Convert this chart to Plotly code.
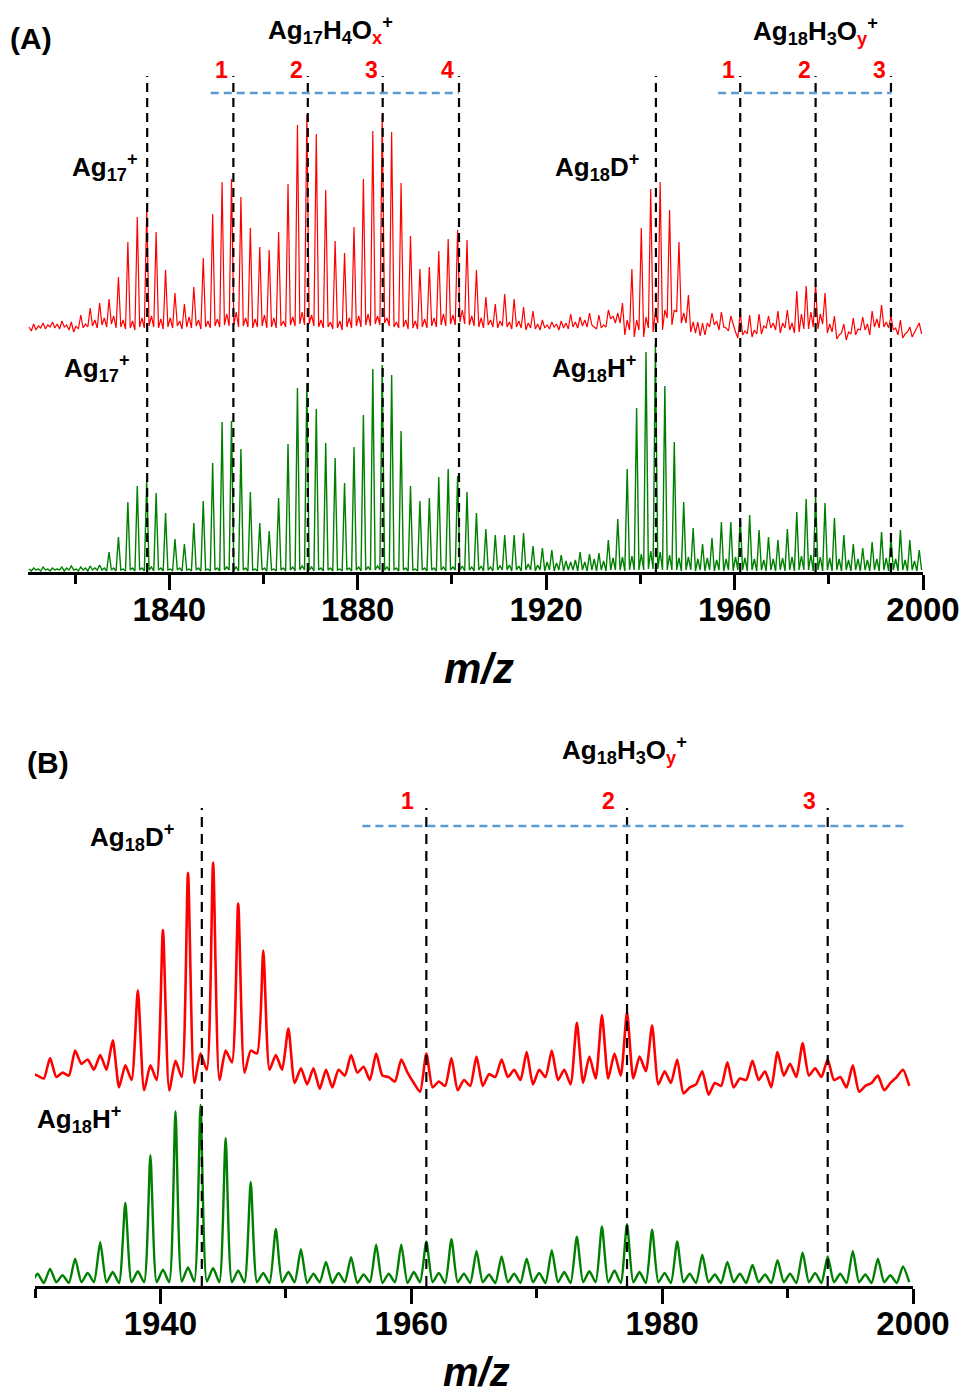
import plotly.graph_objects as go

W, H = 961, 1398

# ---------------------------------------------------------------------------
# Spectra, sampled on a 0.5 Da grid: "apex" values sit at n + 0.2 and
# "trough" values at n + 0.7 for every integer n from MZ_FIRST upward.
# Intensities are in arbitrary units.
# ---------------------------------------------------------------------------
MZ_FIRST = 1810

# red trace (deuterated sample)
red_apex = [
    3, 6, 4, 7, 5, 8, 6, 9, 5, 8,            # 1810-1819
    4, 15, 6, 22, 10, 27, 12, 31, 14, 53,    # 1820-1829
    10, 88, 9, 113, 12, 122, 14, 98, 11, 60,  # 1830-1839
    12, 37, 9, 26, 13, 43, 10, 72, 9, 116,   # 1840-1849
    11, 148, 16, 151, 18, 133, 12, 102, 11, 83,  # 1850-1859
    15, 80, 12, 98, 9, 146, 13, 205, 18, 215,    # 1860-1869
    15, 196, 10, 140, 8, 89, 9, 77, 12, 103,     # 1870-1879
    14, 151, 16, 199, 14, 215, 12, 198, 8, 147,  # 1880-1889
    10, 94, 9, 61, 11, 63, 12, 79, 16, 91,       # 1890-1899
    15, 100, 20, 90, 14, 60, 12, 33, 10, 26,     # 1900-1909
    9, 36, 8, 31, 9, 23, 7, 19, 6, 10,           # 1910-1919
    5, 8, 6, 9, 7, 16, 8, 13, 10, 17,            # 1920-1929
    3, 15, 5, 20, 14, 17, 27, 10, 61, 10,        # 1930-1939
    102, 13, 141, 18, 148, 20, 120, 20, 88, 17,  # 1940-1949
    35, 8, 8, 7, 7, 17, 9, 18, 2, 14,            # 1950-1959
    -2, 18, -1, 15, 0, 16, 4, 14, 7, 19,         # 1960-1969
    7, 20, 7, 39, 16, 44, 18, 46, 16, 37,        # 1970-1979
    6, 14, -5, 6, -2, 12, 1, 13, 6, 19,          # 1980-1989
    11, 25, 8, 14, 2, 10, -4, 3, -2, 7,          # 1990-1999
]
red_trough = [
    -1, 0, 2, 1, 3, 2, 1, 3, 0, -2,
    1, 2, 3, 4, 2, 5, 3, 6, 2, 3,
    1, 2, 0, 3, 2, 4, 3, 2, 1, 3,
    2, 4, 1, 3, 2, 4, 1, 3, 2, 4,
    3, 5, 4, 5, 3, 4, 3, 2, 3, 4,
    2, 3, 2, 4, 3, 5, 4, 6, 5, 6,
    4, 3, 2, 3, 1, 2, 0, 3, 2, 4,
    3, 5, 4, 6, 5, 7, 4, 3, 2, 3,
    1, 2, 1, 3, 2, 4, 3, 5, 4, 6,
    5, 8, 6, 5, 4, 3, 2, 5, 3, 2,
    4, 3, 1, 3, 2, 0, 2, 1, 0, 2,
    1, 3, 0, 2, 1, 3, 2, 4, 3, 5,
    1, 2, 3, 11, 7, 7, -5, 0, -7, 0,
    -7, 2, -2, 7, 0, 12, 5, 18, 7, 7,
    -2, -3, -6, -5, 3, 5, 0, 3, -1, 5,
    -8, -5, -4, -7, -4, -4, 2, 2, 0, -3,
    2, 0, -3, -2, 1, 1, 3, 1, 6, -3,
    -2, -9, -3, -10, -4, -5, 0, 0, -5, 3,
    2, 3, 2, 0, -5, -8, -2, -7, 2, -4,
]

# green trace (non-deuterated sample)
green_apex = [
    2, 3, 2, 4, 2, 3, 2, 4, 3, 5,            # 1810-1819
    2, 4, 3, 5, 3, 6, 3, 19, 3, 34,          # 1820-1829
    2, 69, 3, 85, 3, 91, 4, 78, 3, 58,       # 1830-1839
    2, 32, 3, 27, 2, 48, 3, 70, 2, 108,      # 1840-1849
    3, 149, 4, 150, 4, 122, 3, 79, 2, 48,    # 1850-1859
    3, 40, 2, 73, 3, 127, 4, 183, 5, 188,    # 1860-1869
    4, 162, 3, 128, 3, 113, 2, 88, 3, 124,   # 1870-1879
    4, 156, 4, 202, 5, 206, 4, 196, 3, 140,  # 1880-1889
    3, 85, 2, 70, 3, 73, 3, 94, 4, 102,      # 1890-1899
    4, 95, 5, 79, 4, 58, 5, 42, 4, 36,       # 1900-1909
    5, 36, 6, 36, 5, 38, 7, 25, 6, 23,       # 1910-1919
    9, 21, 8, 16, 10, 9, 11, 19, 9, 17,      # 1920-1929
    12, 18, 10, 31, 13, 52, 14, 102, 15, 163,  # 1930-1939
    17, 219, 20, 227, 19, 185, 16, 129, 13, 69,  # 1940-1949
    14, 43, 12, 27, 13, 33, 11, 49, 12, 49,      # 1950-1959
    14, 53, 13, 56, 12, 41, 11, 34, 12, 31,      # 1960-1969
    13, 42, 14, 59, 15, 72, 16, 75, 14, 68,      # 1970-1979
    13, 53, 12, 36, 11, 27, 12, 23, 11, 29,      # 1980-1989
    12, 39, 13, 34, 12, 41, 11, 31, 10, 21,      # 1990-1999
]
green_trough = [
    0, 1, 0, 1, 0, 1, 1, 0, 1, 1,
    0, 1, 0, 1, 1, 1, 0, 1, 0, 1,
    0, 1, 0, 1, 0, 1, 0, 1, 0, 1,
    0, 1, 0, 1, 0, 1, 0, 1, 0, 1,
    0, 1, 1, 1, 0, 1, 0, 1, 0, 1,
    0, 1, 0, 1, 0, 1, 0, 1, 1, 1,
    0, 1, 0, 1, 0, 1, 0, 1, 0, 1,
    0, 1, 1, 1, 1, 1, 0, 1, 0, 1,
    0, 1, 0, 1, 0, 1, 0, 1, 0, 1,
    1, 1, 0, 1, 0, 1, 0, 1, 0, 1,
    1, 1, 0, 1, 0, 1, 1, 0, 1, 0,
    1, 0, 1, 0, 1, 1, 0, 1, 0, 1,
    0, 1, 0, 1, 1, 1, 0, 1, 1, 1,
    1, 2, 2, 2, 1, 1, 1, 1, 0, 1,
    1, 0, 1, 0, 1, 0, 1, 0, 1, 0,
    1, 1, 0, 1, 0, 1, 0, 1, 0, 1,
    0, 1, 0, 1, 1, 1, 0, 1, 0, 1,
    0, 1, 0, 1, 0, 1, 0, 1, 0, 1,
    0, 1, 0, 1, 0, 1, 0, 1, 0, 1,
]

# reference m/z markers
ref_mz_a = [1835.3, 1853.6, 1869.4, 1885.3, 1901.5, 1943.3, 1961.2, 1977.2, 1993.2]
ref_mz_b = [1943.3, 1961.2, 1977.2, 1993.2]
oxide_num_a = [("1", 1853.6), ("2", 1869.4), ("3", 1885.3), ("4", 1901.5),
               ("1", 1961.2), ("2", 1977.2), ("3", 1993.2)]
oxide_num_b = [("1", 1961.2), ("2", 1977.2), ("3", 1993.2)]
series_span_a = [(1848.8, 1901.5), (1956.5, 1993.3)]
series_span_b = [(1956.1, 1999.5)]

tick_major_a = [1840, 1880, 1920, 1960, 2000]
tick_minor_a = [1820, 1860, 1900, 1940, 1980]
tick_major_b = [1940, 1960, 1980, 2000]
tick_minor_b = [1930, 1950, 1970, 1990]

RED = "#ff0000"
GREEN = "#008000"
BLUE = "#5b9bd5"
FONT = "Liberation Sans, Arial, sans-serif"


def spectrum(apex, trough):
    xs, ys = [], []
    for i, (a, t) in enumerate(zip(apex, trough)):
        n = MZ_FIRST + i
        xs += [n + 0.2, n + 0.7]
        ys += [a, t]
    return xs, ys


def fy(py):
    return 1 - py / H


def fx(px):
    return px / W


rx, ry = spectrum(red_apex, red_trough)
gx, gy = spectrum(green_apex, green_trough)

fig = go.Figure()
# overview panel (A)
fig.add_trace(go.Scatter(x=rx, y=ry, xaxis="x", yaxis="y", mode="lines",
                         line=dict(color=RED, width=1.2)))
fig.add_trace(go.Scatter(x=gx, y=gy, xaxis="x", yaxis="y2", mode="lines",
                         line=dict(color=GREEN, width=1.4)))
# expanded panel (B)
fig.add_trace(go.Scatter(x=rx, y=ry, xaxis="x2", yaxis="y3", mode="lines",
                         line=dict(color=RED, width=2.6, shape="spline",
                                   smoothing=0.6)))
fig.add_trace(go.Scatter(x=gx, y=gy, xaxis="x2", yaxis="y4", mode="lines",
                         line=dict(color=GREEN, width=2.4, shape="spline",
                                   smoothing=0.6)))

axis_common = dict(
    showgrid=False, zeroline=False, showline=True, linecolor="black", linewidth=3,
    ticks="outside", ticklen=15, tickwidth=3, tickcolor="black",
    tickfont=dict(family=FONT, size=33, color="black", weight=700),
    tickmode="array", automargin=False, ticklabelstandoff=-9,
)

fig.update_layout(
    width=W, height=H, margin=dict(l=0, r=0, t=0, b=0, pad=0, autoexpand=False),
    paper_bgcolor="white", plot_bgcolor="rgba(0,0,0,0)", showlegend=False,
    xaxis=dict(domain=[fx(28), fx(923)], range=[1810, 2000], anchor="y2",
               tickvals=tick_major_a,
               minor=dict(tickvals=tick_minor_a, ticklen=9, tickwidth=3,
                          tickcolor="black", ticks="outside"),
               **axis_common),
    xaxis2=dict(domain=[fx(35), fx(913)], range=[1930, 2000], anchor="y4",
                tickvals=tick_major_b,
                minor=dict(tickvals=tick_minor_b, ticklen=9, tickwidth=3,
                           tickcolor="black", ticks="outside"),
                **axis_common),
    yaxis=dict(domain=[fy(342), fy(60)], range=[-12, 270], visible=False, anchor="x"),
    yaxis2=dict(domain=[fy(572), fy(300)], range=[-1, 271], visible=False, anchor="x"),
    yaxis3=dict(domain=[fy(1100), fy(820)], range=[-13.6, 176.9], visible=False, anchor="x2"),
    yaxis4=dict(domain=[fy(1286), fy(1000)], range=[-3.8, 361], visible=False, anchor="x2"),
)

shapes = []
for m in ref_mz_a:
    shapes.append(dict(type="line", xref="x", yref="paper", x0=m, x1=m,
                       y0=fy(572), y1=fy(76),
                       line=dict(color="black", width=2.2, dash="9px,6px")))
for m in ref_mz_b:
    shapes.append(dict(type="line", xref="x2", yref="paper", x0=m, x1=m,
                       y0=fy(1286), y1=fy(808),
                       line=dict(color="black", width=2.2, dash="10px,7px")))
for a, b in series_span_a:
    shapes.append(dict(type="line", xref="x", yref="paper", x0=a, x1=b,
                       y0=fy(93), y1=fy(93),
                       line=dict(color=BLUE, width=2.5, dash="8px,5px")))
for a, b in series_span_b:
    shapes.append(dict(type="line", xref="x2", yref="paper", x0=a, x1=b,
                       y0=fy(826), y1=fy(826),
                       line=dict(color=BLUE, width=2.5, dash="8px,5px")))
fig.update_layout(shapes=shapes)


def label(text, px, py, size=26, color="black", italic=False):
    # px is the left edge of the text, py its vertical middle
    fig.add_annotation(
        text=text, xref="paper", yref="paper", x=fx(px), y=fy(py),
        xanchor="left", yanchor="middle", showarrow=False, borderpad=0,
        font=dict(family=FONT, size=size, color=color, weight=700,
                  style="italic" if italic else "normal"))


red_x = "<span style='color:#ff0000'>x</span>"
red_y = "<span style='color:#ff0000'>y</span>"

# panel A
label("(A)", 9, 38, size=30)
label(f"Ag<sub>17</sub>H<sub>4</sub>O<sub>{red_x}</sub><sup>+</sup>", 267, 30)
label(f"Ag<sub>18</sub>H<sub>3</sub>O<sub>{red_y}</sub><sup>+</sup>", 752, 31)
label("Ag<sub>17</sub><sup>+</sup>", 71, 167)
label("Ag<sub>17</sub><sup>+</sup>", 63, 368)
label("Ag<sub>18</sub>D<sup>+</sup>", 554, 167)
label("Ag<sub>18</sub>H<sup>+</sup>", 551, 368)
label("m/z", 443, 668, size=42, italic=True)

# panel B
label("(B)", 26, 762, size=30)
label(f"Ag<sub>18</sub>H<sub>3</sub>O<sub>{red_y}</sub><sup>+</sup>", 561, 750)
label("Ag<sub>18</sub>D<sup>+</sup>", 89, 837)
label("Ag<sub>18</sub>H<sup>+</sup>", 36, 1119)
label("m/z", 442, 1372, size=40, italic=True)

for txt, m in oxide_num_a:
    fig.add_annotation(text=txt, xref="x", yref="paper", x=m, y=fy(70),
                       xanchor="right", yanchor="middle", xshift=-3, showarrow=False,
                       font=dict(family=FONT, size=23, color=RED, weight=700))
for txt, m in oxide_num_b:
    fig.add_annotation(text=txt, xref="x2", yref="paper", x=m, y=fy(801),
                       xanchor="right", yanchor="middle", xshift=-10, showarrow=False,
                       font=dict(family=FONT, size=23, color=RED, weight=700))

fig.write_html("out.html")
